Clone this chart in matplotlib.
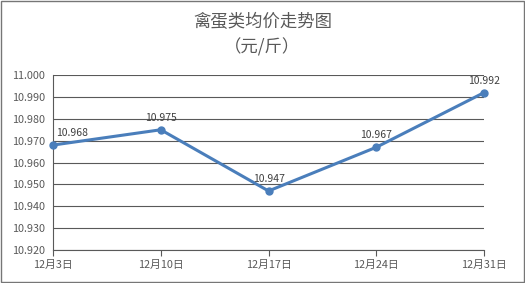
import matplotlib.pyplot as plt
from matplotlib.patches import Rectangle

plt.rcParams['font.family'] = ['Noto Sans CJK SC', 'DejaVu Sans']

dates = ["12月3日", "12月10日", "12月17日", "12月24日", "12月31日"]
prices = [10.968, 10.975, 10.947, 10.967, 10.992]
yticks = [10.920, 10.930, 10.940, 10.950, 10.960, 10.970, 10.980, 10.990, 11.000]

text_color = "#595959"
line_color = "#4A7EBB"

fig = plt.figure(figsize=(5.25, 2.83), dpi=100)
ax = fig.add_axes([0.101, 0.1166, 0.821, 0.618])

x = list(range(len(dates)))
ax.plot(x, prices, color=line_color, lw=2.2, marker="o", ms=5, zorder=3, clip_on=False)
for i, (xi, v) in enumerate(zip(x, prices)):
    ha = "left" if i == 0 else "center"
    dx = 2 if i == 0 else 0
    ax.annotate(f"{v:.3f}", (xi, v), xytext=(dx, 5), textcoords="offset points",
                ha=ha, va="bottom", fontsize=7.5, color="#404040")

ax.set_xlim(0, len(dates) - 1)
ax.set_ylim(10.920, 11.000)
ax.set_yticks(yticks)
ax.set_yticklabels([f"{t:.3f}" for t in yticks])
ax.set_xticks(x)
ax.set_xticklabels(dates)
ax.tick_params(axis="y", length=0, labelsize=7.8, labelcolor=text_color, pad=6)
ax.tick_params(axis="x", length=4, labelsize=7.8, labelcolor=text_color, color="#595959", pad=3)
ax.grid(axis="y", color="#595959", lw=0.8)
for s in ["top", "right"]:
    ax.spines[s].set_visible(False)
ax.spines["left"].set_color("#595959")
ax.spines["bottom"].set_color("#595959")

fig.text(0.5, 0.922, "禽蛋类均价走势图", ha="center", va="center", fontsize=12.5,
         color=text_color, fontweight="medium")
fig.text(0.5, 0.832, "（元/斤）", ha="center", va="center", fontsize=12.5,
         color=text_color, fontweight="medium")

fig.patches.append(Rectangle((0.001, 0.002), 0.997, 0.995, transform=fig.transFigure,
                             fill=False, ec="#767676", lw=1))

fig.savefig("out.png", dpi=100)
